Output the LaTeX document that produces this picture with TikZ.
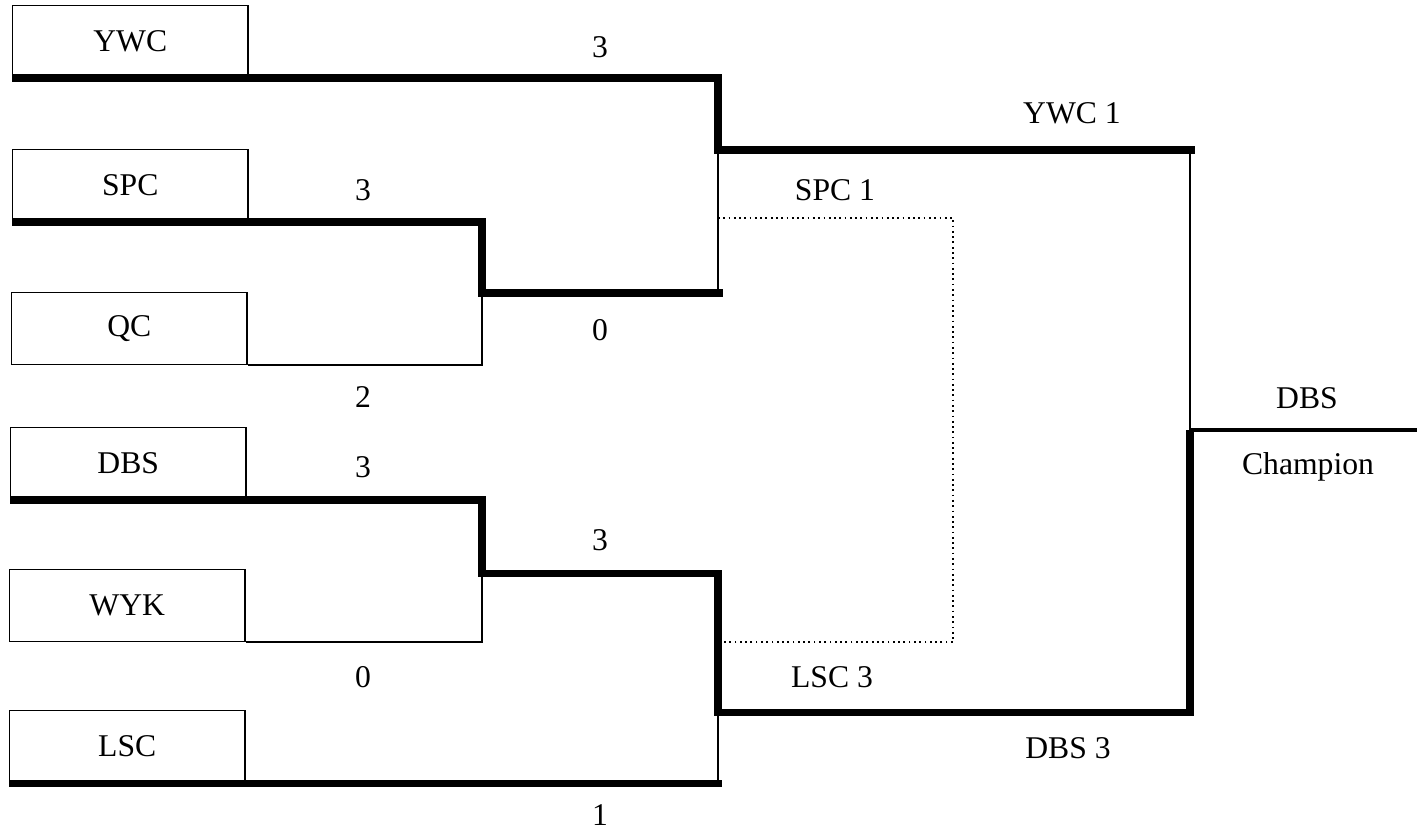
\documentclass[tikz,border=0pt]{standalone}
\usepackage{xcolor}
\usepackage{tikz}
\usepackage{fontspec}
\setmainfont{Liberation Serif}

\tikzset{
  teambox/.style={draw, line width=0.4pt, rectangle, minimum width=2.35cm, minimum height=0.72cm, anchor=south west, inner sep=0pt, font=\fontsize{9}{11}\selectfont},
  score/.style={inner sep=0pt, font=\fontsize{9}{11}\selectfont},
  winline/.style={line width=2pt, line join=miter},
  finalline/.style={line width=1.2pt},
  thinline/.style={line width=0.45pt},
  dotline/.style={line width=0.5pt, densely dotted}
}

\begin{document}
\begin{tikzpicture}[x=0.01cm, y=-0.01cm]%
\useasboundingbox (0,0) rectangle (1417,832);%
% teams
\node[teambox] (ywc) at (12,78) {YWC};%
\node[teambox] (spc) at (12,222) {SPC};%
\node[teambox] (qc) at (11,365) {QC};%
\node[teambox] (dbs) at (10,500) {DBS};%
\node[teambox] (wyk) at (9,642) {WYK};%
\node[teambox] (lsc) at (9,783) {LSC};%
% match points
\coordinate (q1) at (482,293);%
\coordinate (q2) at (482,573);%
\coordinate (sA) at (718,150);%
\coordinate (sB) at (718,712);%
\coordinate (fin) at (1190,430);%
\coordinate (fend) at (1417,430);%
\coordinate (dotA) at (718,218);%
\coordinate (dotB) at (953,218);%
\coordinate (dotC) at (953,642);%
\coordinate (dotD) at (718,642);%
% bracket lines
\draw[thinline] (qc.south east) -| (q1);%
\draw[thinline] (wyk.south east) -| (q2);%
\draw[thinline] (q1 -| sA) -- (sA);%
\draw[thinline] (sB) -- (lsc.south west -| sB);%
\draw[thinline] (sA -| fin) -- (fin);%
\draw[dotline] (dotA) -- (dotB) -- (dotC) -- (dotD);%
\draw[winline] (ywc.south west) -| (sA) -- ([xshift=0.05cm]sA -| fin);%
\draw[winline] (spc.south west) -| (q1) -- ([xshift=0.05cm]q1 -| sA);%
\draw[winline] (dbs.south west) -| (q2) -| (sB) -- (sB -| fin) -- (fin);%
\draw[winline] (lsc.south west) -- ([xshift=0.04cm]lsc.south west -| sB);%
\draw[finalline] (fin) -- (fend);%
% scores
\node[score] (s1) at (600,47) {3};%
\node[score] (s2) at (363,190) {3};%
\node[score] (s3) at (600,330) {0};%
\node[score] (s4) at (363,397) {2};%
\node[score] (s5) at (363,467) {3};%
\node[score] (s6) at (600,540) {3};%
\node[score] (s7) at (363,677) {0};%
\node[score] (s8) at (600,815) {1};%
\node[score] (ywcone) at (1072,113) {YWC 1};%
\node[score] (spcone) at (835,190) {SPC 1};%
\node[score] (lscthree) at (832,677) {LSC 3};%
\node[score] (dbsthree) at (1068,748) {DBS 3};%
\node[score] (champ) at (1307,398) {DBS};%
\node[score] (champlabel) at (1308,467) {Champion};%
\end{tikzpicture}
\end{document}
